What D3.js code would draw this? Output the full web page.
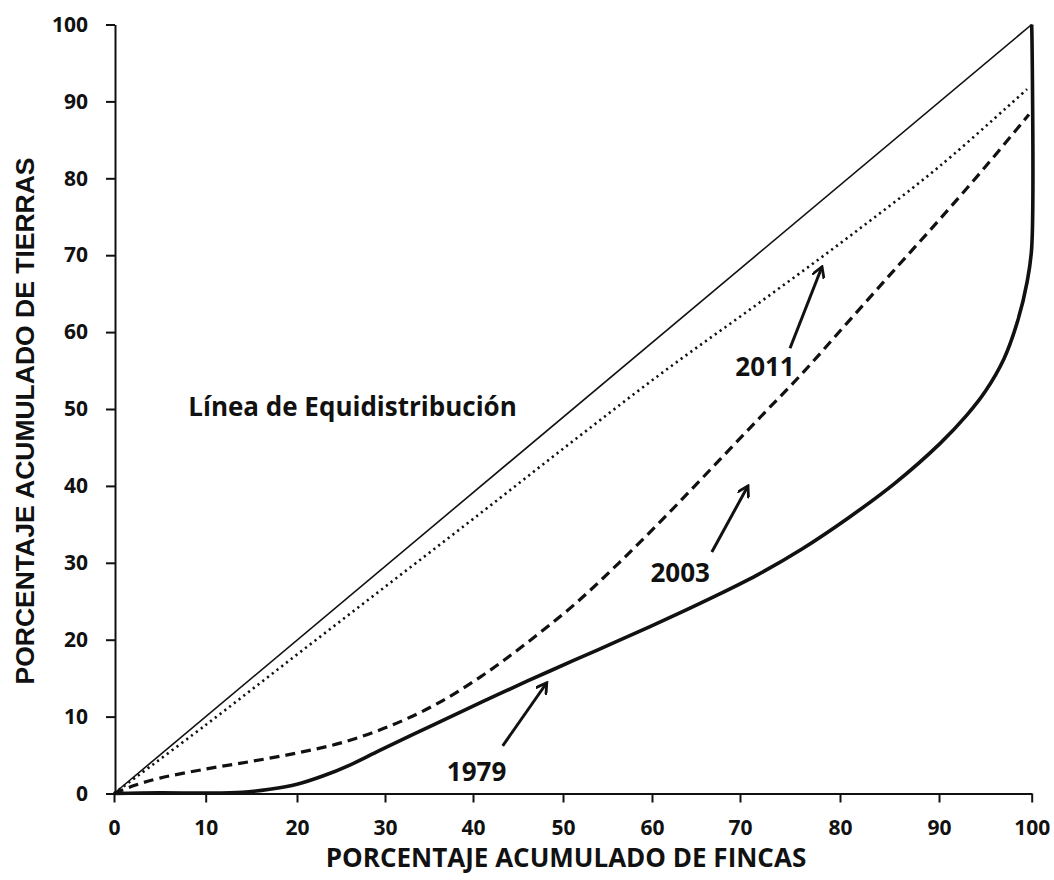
<!DOCTYPE html>
<html><head><meta charset="utf-8">
<script src="https://cdn.jsdelivr.net/npm/d3@7"></script>
<style>body{margin:0;background:#fff}svg{display:block}</style>
</head><body>
<svg id="c" width="1054" height="880"></svg>
<script>
const xTicks = [0,10,20,30,40,50,60,70,80,90,100];
const yTicks = [0,10,20,30,40,50,60,70,80,90,100];
const xTitle = "PORCENTAJE ACUMULADO DE FINCAS";
const yTitle = "PORCENTAJE ACUMULADO DE TIERRAS";
const equiLabel = "Línea de Equidistribución";

const equi = [[0,0],[100,100]];
const s2011 = [[0,0],[10.1,9.0],[20.15,18.2],[30.6,27.4],[41,36.6],[51.2,45.9],[61.5,55],[71.7,63.6],[80.8,72.3],[90.1,81.6],[99.5,91.6]];
const s2003 = [[0,0],[2.1,1.0],[5,2.0],[10.1,3.2],[15.1,4.2],[20.15,5.3],[25.35,6.7],[30.6,8.8],[35.8,11.6],[41,15.3],[46,19.6],[51.2,24.5],[56.3,30.0],[61.5,36.0],[66.7,42.2],[71.7,48.5],[76.2,54.6],[80.8,61.3],[85.5,68.1],[90.1,74.7],[95,81.5],[99.7,88.3]];
const s1979 = [[0,0],[5,0.1],[10,0.05],[14,0.15],[17,0.55],[20,1.2],[23,2.3],[26,3.7],[29.4,5.6],[35.8,9.1],[41,11.9],[46,14.6],[51.2,17.3],[56.3,19.9],[61.5,22.6],[66.7,25.4],[71.7,28.4],[76.2,31.8],[80.8,35.8],[85.5,40.3],[90.1,45.5],[93,49.2],[95,52.3],[97,56.5],[98.5,61.5],[99.5,66.5],[100,71],[100,100]];

// annotations: [label, textX, textY, arrowFromX, arrowFromY, arrowToX, arrowToY]
const notes = [
  ["2011", 72.5, 55.5, 75.0, 57.9, 78.2, 68.5],
  ["2003", 63.2, 28.7, 66.8, 31.4, 70.8, 40.0],
  ["1979", 40.4, 2.8, 43.3, 6.2, 48.2, 14.4]
];
const equiPos = [8.1, 50.3];

const svg = d3.select("#c");
// x positions follow the tick marks of the (slightly uneven) source scan
const x = d3.scaleLinear().domain(xTicks).range([114,205.7,297,385,473,563,652,740,840,939,1031.7]);
const y = d3.scaleLinear().domain([0,100]).range([793.5,24.5]);
const FONT = "'Open Sans', 'DejaVu Sans', sans-serif";
const FONT2 = "'Liberation Sans', Arial, sans-serif";
const line = d3.line().x(d=>x(d[0])).y(d=>y(d[1]));
const smooth = d3.line().x(d=>x(d[0])).y(d=>y(d[1])).curve(d3.curveCatmullRom.alpha(0.5));

// curves
svg.append("path").attr("d", line(equi)).attr("fill","none").attr("stroke","#111").attr("stroke-width",1.6);
svg.append("path").attr("d", smooth(s2011)).attr("fill","none").attr("stroke","#111").attr("stroke-width",2.6).attr("stroke-dasharray","2.2,3.8");
svg.append("path").attr("d", smooth(s2003)).attr("fill","none").attr("stroke","#111").attr("stroke-width",3.2).attr("stroke-dasharray","10,6");
svg.append("path").attr("d", smooth(s1979)).attr("fill","none").attr("stroke","#111").attr("stroke-width",3.6);

// axes
const gx = svg.append("g").attr("transform",`translate(0,${y(0)})`)
  .call(d3.axisBottom(x).tickValues(xTicks).tickSize(9).tickSizeOuter(0).tickPadding(18));
const gy = svg.append("g").attr("transform",`translate(${x(0)+1},0)`)
  .call(d3.axisLeft(y).tickValues(yTicks).tickSize(9).tickSizeOuter(0).tickPadding(18));
[gx,gy].forEach(g=>{
  g.select(".domain").attr("stroke","#111").attr("stroke-width",2);
  g.selectAll(".tick line").attr("stroke","#111").attr("stroke-width",2);
  g.selectAll(".tick text").attr("fill","#111").style("font-family",FONT).style("font-weight","700").style("font-size","21px");
});

// titles
svg.append("text").attr("x",566).attr("y",867).attr("text-anchor","middle")
  .style("font-family",FONT).style("font-weight","700").style("font-size","26px").attr("fill","#111").text(xTitle);
svg.append("text").attr("transform",`translate(34,421) rotate(-90)`).attr("text-anchor","middle")
  .style("font-family",FONT2).style("font-weight","700").style("font-size","26.5px").attr("fill","#111").text(yTitle);

// equidistribution label
svg.append("text").attr("x",x(equiPos[0])).attr("y",y(equiPos[1])+9)
  .style("font-family",FONT).style("font-weight","700").style("font-size","26px").attr("fill","#111").text(equiLabel);

// annotations
const defs = svg.append("defs");
defs.append("marker").attr("id","ah").attr("viewBox","0 0 12 12").attr("refX",10).attr("refY",6)
  .attr("markerWidth",13).attr("markerHeight",13).attr("markerUnits","userSpaceOnUse").attr("orient","auto")
  .append("path").attr("d","M0,0 L10,6 L0,12").attr("fill","none").attr("stroke","#111").attr("stroke-width",2.6);
notes.forEach(n=>{
  svg.append("line").attr("x1",x(n[3])).attr("y1",y(n[4])).attr("x2",x(n[5])).attr("y2",y(n[6]))
    .attr("stroke","#111").attr("stroke-width",3).attr("marker-end","url(#ah)");
  svg.append("text").attr("x",x(n[1])).attr("y",y(n[2])+9).attr("text-anchor","middle")
    .style("font-family",FONT).style("font-weight","700").style("font-size","26px").attr("fill","#111").text(n[0]);
});
</script>
</body></html>
